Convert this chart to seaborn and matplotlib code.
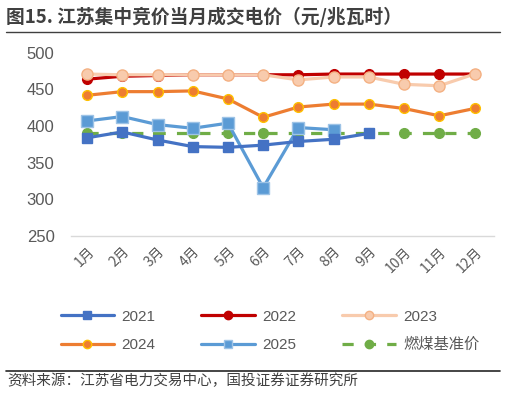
import matplotlib
matplotlib.use("Agg")
import matplotlib.pyplot as plt
import seaborn as sns
import pandas as pd
from matplotlib.lines import Line2D

months = ["1月", "2月", "3月", "4月", "5月", "6月", "7月", "8月", "9月", "10月", "11月", "12月"]
y2021 = [384, 392, 381, 372, 371, 374, 379, 382, 390, None, None, None]
y2022 = [464, 468, 469, 470, 470, 470, 470, 471, 471, 471, 471, 471]
y2023 = [471, 470, 470, 470, 470, 470, 463, 467, 467, 457, 455, 471]
y2024 = [442, 447, 447, 448, 437, 412, 426, 430, 430, 424, 414, 424]
y2025 = [407, 413, 402, 397, 404, 316, 398, 395, None, None, None, None]
coal = [391] * 12
series_names = ["2021", "2022", "2023", "2024", "2025", "燃煤基准价"]

sns.set_theme(style="white")
plt.rcParams['font.family'] = ['Liberation Sans', 'Noto Sans CJK SC', 'DejaVu Sans']

rows = []
for name, vals in zip(series_names, [y2021, y2022, y2023, y2024, y2025, coal]):
    for i, v in enumerate(vals):
        if v is not None:
            rows.append({"month": i, "value": v, "series": name})
df = pd.DataFrame(rows)

styles = {
    "2021": dict(color="#4472C4", marker="s", ms=7, mfc="#4472C4", mec="#4472C4", ls="-"),
    "2022": dict(color="#C00000", marker="o", ms=7, mfc="#C00000", mec="#C00000", ls="-"),
    "2023": dict(color="#F8CBAD", marker="o", ms=8, mfc="#F8CBAD", mec="#F4B183", ls="-"),
    "2024": dict(color="#ED7D31", marker="o", ms=7, mfc="#ED7D31", mec="#FFC000", ls="-"),
    "2025": dict(color="#5B9BD5", marker="s", ms=8, mfc="#5B9BD5", mec="#9DC3E6", ls="-"),
    "燃煤基准价": dict(color="#70AD47", marker="o", ms=7, mfc="#70AD47", mec="#70AD47", ls=(0, (3.5, 3.5))),
}

fig = plt.figure(figsize=(5.05, 3.94), dpi=100)
ax = fig.add_axes([0.141, 0.401, 0.837, 0.465])

order = ["2022", "2023", "2024", "燃煤基准价", "2025", "2021"]
for name in order:
    st = styles[name]
    sub = df[df.series == name]
    sns.lineplot(data=sub, x="month", y="value", ax=ax, color=st["color"], lw=2.3,
                 linestyle=st["ls"], marker=st["marker"], markersize=st["ms"],
                 markerfacecolor=st["mfc"], markeredgecolor=st["mec"], markeredgewidth=1,
                 legend=False)

ax.set_xlim(-0.45, 11.55)
ax.set_ylim(250, 500)
ax.set_yticks([250, 300, 350, 400, 450, 500])
ax.set_xticks(range(12))
ax.set_xticklabels(months, rotation=45, ha="right", rotation_mode="anchor",
                   fontsize=10, color="#595959", family=['Noto Sans CJK SC', 'DejaVu Sans'])
ax.tick_params(axis="y", labelsize=12, colors="#595959", length=0, pad=12)
ax.tick_params(axis="x", length=0, pad=6)
ax.set_xlabel("")
ax.set_ylabel("")
for s in ["top", "right", "left"]:
    ax.spines[s].set_visible(False)
ax.spines["bottom"].set_color("#D9D9D9")
ax.spines["bottom"].set_linewidth(1)

handle_map = {}
for name in series_names:
    st = styles[name]
    handle_map[name] = Line2D([0], [0], color=st["color"], lw=2.3, linestyle=st["ls"],
                              marker=st["marker"], markersize=6,
                              markerfacecolor=st["mfc"], markeredgecolor=st["mec"])
# matplotlib fills legend columns first; reorder so rows read 2021,2022,2023 / 2024,2025,燃煤基准价
leg_order = ["2021", "2024", "2022", "2025", "2023", "燃煤基准价"]
leg = fig.legend([handle_map[n] for n in leg_order], leg_order, loc="center",
                 bbox_to_anchor=(0.535, 0.160), ncol=3, frameon=False, fontsize=11,
                 handlelength=3.5, handletextpad=0.5, columnspacing=3.0,
                 labelspacing=0.95, borderaxespad=0)
for t in leg.get_texts():
    t.set_color("#595959")
    t.set_family(['Liberation Sans', 'Noto Sans CJK SC', 'DejaVu Sans'])

fig.text(0.012, 0.958, "图15. 江苏集中竞价当月成交电价（元/兆瓦时）", fontsize=13.5, fontweight="bold",
         color="#404040", va="center", ha="left",
         family=['Noto Sans CJK SC', 'DejaVu Sans'])
fig.add_artist(Line2D([0.012, 0.99], [0.92, 0.92], color="#404040", lw=1, transform=fig.transFigure))
fig.add_artist(Line2D([0.012, 0.99], [0.059, 0.059], color="#262626", lw=1.2, transform=fig.transFigure))
fig.text(0.015, 0.033, "资料来源：江苏省电力交易中心，国投证券证券研究所", fontsize=10.5, color="#404040",
         va="center", ha="left", style="italic", family=['Noto Sans CJK SC', 'DejaVu Sans'])

fig.savefig("out.png", dpi=100)
